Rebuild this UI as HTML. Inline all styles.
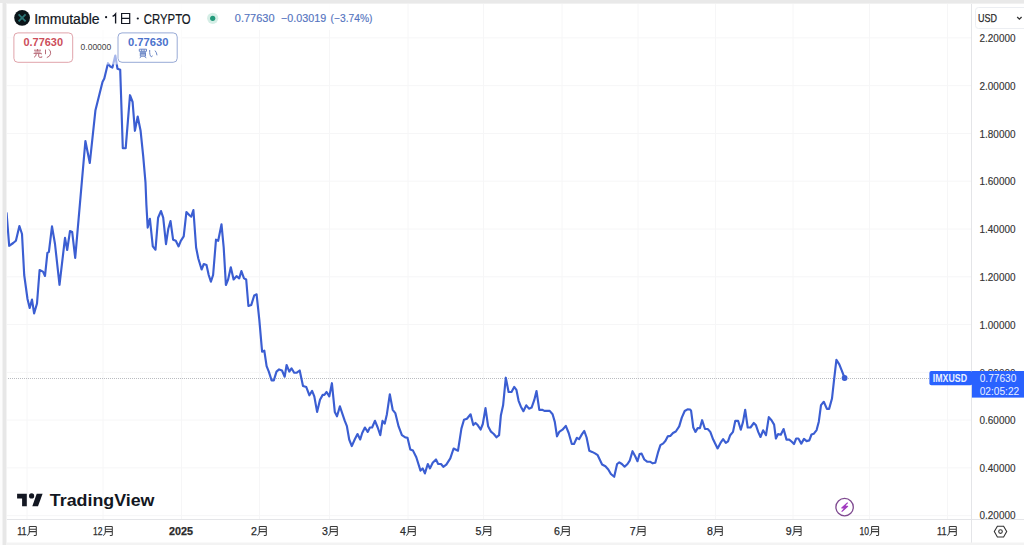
<!DOCTYPE html>
<html><head><meta charset="utf-8">
<style>
*{margin:0;padding:0;box-sizing:border-box}
html,body{width:1024px;height:545px;overflow:hidden;background:#fff;font-family:"Liberation Sans",sans-serif}
#wrap{position:absolute;left:0;top:0;width:1024px;height:545px;background:#fff}
svg{position:absolute;left:0;top:0}
</style></head><body><div id="wrap">
<svg width="1024" height="545" viewBox="0 0 1024 545" font-family="Liberation Sans, sans-serif">
  <defs>
    <g id="tsuki" fill="none" stroke="#3a3a3a" stroke-width="1.05">
      <path d="M2.3 0.5 H9.3 M2.3 0.5 V6 Q2.3 8.6 0.2 9.6 M9.3 0.5 V8.7 Q9.3 9.4 8.4 9.4 H6.8 M2.3 3.2 H9.3 M2.3 5.6 H9.3"/>
    </g>
  </defs>
  <!-- frame -->
  <rect x="0" y="0" width="1024" height="545" fill="#fff"/>
  <!-- grid -->
  <g stroke="#f6f6f7" stroke-width="1">
    <line x1="6" y1="37.9" x2="971" y2="37.9"/>
    <line x1="6" y1="85.7" x2="971" y2="85.7"/>
    <line x1="6" y1="133.5" x2="971" y2="133.5"/>
    <line x1="6" y1="181.2" x2="971" y2="181.2"/>
    <line x1="6" y1="229" x2="971" y2="229"/>
    <line x1="6" y1="276.8" x2="971" y2="276.8"/>
    <line x1="6" y1="324.6" x2="971" y2="324.6"/>
    <line x1="6" y1="372.4" x2="971" y2="372.4"/>
    <line x1="6" y1="420.1" x2="971" y2="420.1"/>
    <line x1="6" y1="467.9" x2="971" y2="467.9"/>
    <line x1="6" y1="515.7" x2="971" y2="515.7"/>
    <line x1="27" y1="3" x2="27" y2="519"/>
    <line x1="103" y1="3" x2="103" y2="519"/>
    <line x1="181.5" y1="3" x2="181.5" y2="519"/>
    <line x1="259.5" y1="3" x2="259.5" y2="519"/>
    <line x1="329.5" y1="3" x2="329.5" y2="519"/>
    <line x1="408" y1="3" x2="408" y2="519"/>
    <line x1="483.5" y1="3" x2="483.5" y2="519"/>
    <line x1="562" y1="3" x2="562" y2="519"/>
    <line x1="638" y1="3" x2="638" y2="519"/>
    <line x1="715.5" y1="3" x2="715.5" y2="519"/>
    <line x1="793" y1="3" x2="793" y2="519"/>
    <line x1="869.5" y1="3" x2="869.5" y2="519"/>
    <line x1="947.5" y1="3" x2="947.5" y2="519"/>
  </g>
  <!-- axes borders -->
  <line x1="971.5" y1="3" x2="971.5" y2="545" stroke="#e4e5e8" stroke-width="1"/>
  <line x1="6" y1="519.5" x2="1024" y2="519.5" stroke="#e4e5e8" stroke-width="1"/>
  <!-- price line dotted -->
  <line x1="6" y1="378.5" x2="929" y2="378.5" stroke="#b9bbc0" stroke-width="1" stroke-dasharray="1 1"/>
  <!-- series -->
  <path d="M6.6 213.2 L9.2 245.8 L13.2 243.0 L15.9 240.7 L19.4 226.0 L22.0 234.0 L24.2 275.0 L27.5 299.0 L29.7 308.0 L32.0 299.6 L34.1 313.4 L37.0 303.5 L39.6 270.0 L43.0 271.6 L45.0 276.0 L47.4 252.9 L48.9 251.8 L52.0 226.4 L55.0 244.0 L59.5 284.8 L65.0 237.9 L67.2 250.0 L70.0 231.0 L72.2 232.0 L75.2 258.0 L85.4 141.0 L89.8 163.0 L95.4 110.6 L102.5 82.0 L104.3 78.6 L108.0 63.2 L110.2 66.5 L112.4 67.6 L115.3 55.5 L117.5 68.7 L120.2 69.8 L122.8 148.2 L125.7 148.2 L130.0 95.2 L132.6 102.0 L134.9 130.8 L137.7 116.5 L140.6 130.8 L143.2 156.2 L145.5 182.7 L146.4 205.0 L147.7 227.6 L149.9 218.8 L152.8 246.4 L155.5 249.7 L158.1 217.7 L161.0 211.0 L163.2 217.7 L166.0 244.2 L168.3 228.7 L170.5 221.0 L173.1 239.7 L175.8 240.8 L178.6 246.4 L180.8 240.8 L183.7 236.4 L186.4 212.1 L189.7 215.5 L191.2 216.6 L193.4 210.0 L196.1 247.5 L198.3 258.5 L201.6 269.5 L203.8 264.0 L206.5 265.1 L208.7 275.0 L210.9 281.7 L213.1 275.0 L216.0 239.7 L218.2 240.8 L221.5 224.3 L223.7 247.5 L225.9 285.0 L228.1 279.5 L230.8 267.3 L233.6 279.5 L236.5 276.2 L239.2 278.4 L241.4 271.1 L244.0 278.4 L246.2 279.5 L248.4 306.0 L251.3 304.9 L254.2 295.5 L256.6 294.3 L259.3 319.7 L262.1 351.7 L264.3 350.6 L266.6 366.1 L268.8 371.6 L271.6 380.4 L273.8 380.4 L276.5 371.6 L279.1 369.4 L282.0 370.5 L284.7 376.7 L286.6 365.0 L289.3 371.6 L291.5 368.3 L294.2 372.7 L296.8 372.7 L299.7 370.5 L303.0 386.0 L306.3 387.1 L309.4 395.3 L312.1 390.9 L314.3 396.4 L317.1 411.9 L320.0 399.7 L322.7 394.9 L324.4 394.9 L326.6 392.0 L329.3 396.4 L331.9 383.2 L334.8 411.9 L337.0 416.3 L339.9 406.4 L342.5 414.1 L344.7 420.7 L346.9 426.2 L349.2 439.5 L351.8 446.1 L354.7 439.5 L357.5 434.0 L360.2 439.5 L362.2 433.0 L364.9 427.5 L367.7 431.9 L369.9 427.5 L372.1 427.5 L375.0 420.8 L377.7 427.5 L380.3 435.2 L382.5 420.8 L384.7 423.7 L386.9 414.2 L389.8 394.3 L392.7 409.8 L395.3 413.1 L398.6 426.4 L401.9 435.2 L405.3 437.4 L407.5 437.8 L410.3 449.5 L413.0 450.6 L416.3 457.3 L420.5 470.6 L422.7 468.4 L424.9 473.4 L427.8 464.0 L430.0 468.4 L432.7 462.8 L436.0 459.5 L438.2 464.0 L441.0 464.0 L443.3 466.8 L446.3 464.6 L450.3 458.4 L453.6 448.5 L458.0 450.7 L461.4 428.6 L464.0 419.8 L466.9 418.7 L470.6 414.3 L473.3 425.1 L475.5 422.9 L477.7 425.1 L480.6 429.5 L482.8 424.0 L485.5 408.1 L488.1 426.2 L491.0 431.7 L493.8 434.0 L496.5 437.3 L499.1 435.1 L500.9 415.2 L503.1 405.3 L505.8 377.7 L508.6 392.0 L511.5 392.0 L514.2 386.9 L516.4 389.8 L518.6 400.8 L520.8 406.4 L523.4 411.2 L526.3 405.3 L529.0 408.7 L531.6 407.6 L534.3 399.9 L536.5 391.0 L539.3 409.8 L542.2 409.8 L544.4 410.9 L547.1 410.9 L549.7 410.9 L552.6 414.2 L554.8 421.9 L557.0 436.3 L559.2 431.9 L562.5 429.7 L565.8 425.9 L568.7 433.0 L571.8 444.0 L574.0 444.0 L576.9 437.8 L579.1 439.2 L582.0 434.1 L584.3 431.0 L586.6 437.5 L589.3 450.8 L592.1 451.9 L595.0 453.4 L597.7 455.2 L600.3 460.7 L602.1 464.5 L605.4 466.2 L608.3 469.5 L610.9 474.0 L614.2 476.8 L617.1 464.0 L619.3 462.3 L621.9 464.0 L624.6 466.7 L627.5 464.0 L629.7 460.7 L632.5 451.2 L635.2 456.3 L637.5 461.2 L639.6 454.0 L641.6 453.6 L644.3 459.5 L647.1 461.7 L650.0 461.7 L652.7 463.3 L655.3 462.8 L658.2 451.8 L660.4 445.2 L663.3 443.4 L665.5 440.8 L667.7 436.4 L670.3 435.9 L673.0 433.0 L675.8 431.5 L679.2 426.4 L681.8 417.6 L684.7 411.0 L687.5 409.4 L690.2 409.5 L691.1 410.9 L693.3 427.5 L695.5 431.9 L697.7 428.1 L699.9 428.1 L702.1 420.2 L705.0 429.0 L707.7 429.0 L710.3 431.9 L713.2 439.6 L715.4 444.0 L717.6 448.4 L720.5 442.9 L723.1 439.2 L725.8 442.9 L728.0 441.4 L730.2 435.2 L733.0 431.9 L735.3 420.8 L738.1 420.8 L740.8 429.7 L743.0 421.9 L745.2 409.8 L747.7 427.5 L750.5 427.5 L753.8 423.0 L756.0 425.3 L758.2 431.9 L760.5 437.0 L763.1 430.3 L766.0 435.2 L768.8 417.1 L771.5 420.2 L774.1 424.6 L775.9 438.5 L778.1 434.1 L780.8 434.7 L783.6 429.0 L786.5 439.6 L789.2 439.6 L791.8 441.8 L794.0 444.0 L796.2 438.5 L798.4 438.5 L801.3 443.6 L804.0 438.9 L806.6 441.1 L809.3 440.4 L811.5 434.5 L813.7 433.8 L816.6 430.1 L818.8 421.7 L821.0 405.1 L823.8 401.8 L826.9 408.9 L829.1 408.9 L832.0 398.5 L834.2 378.6 L836.4 359.8 L839.3 364.3 L841.9 370.9 L844.6 378.0" fill="none" stroke="#3b5ed2" stroke-width="2.15" stroke-linejoin="round" stroke-linecap="round"/>
  <circle cx="844.6" cy="378" r="2.9" fill="#3b5ed2"/>

  <!-- price axis labels -->
  <g font-size="11.6" fill="#333" stroke="#333" stroke-width="0.15">
    <text x="979.5" y="42.1" textLength="36" lengthAdjust="spacingAndGlyphs">2.20000</text>
    <text x="979.5" y="89.9" textLength="36" lengthAdjust="spacingAndGlyphs">2.00000</text>
    <text x="979.5" y="137.7" textLength="36" lengthAdjust="spacingAndGlyphs">1.80000</text>
    <text x="979.5" y="185.4" textLength="36" lengthAdjust="spacingAndGlyphs">1.60000</text>
    <text x="979.5" y="233.2" textLength="36" lengthAdjust="spacingAndGlyphs">1.40000</text>
    <text x="979.5" y="281" textLength="36" lengthAdjust="spacingAndGlyphs">1.20000</text>
    <text x="979.5" y="328.8" textLength="36" lengthAdjust="spacingAndGlyphs">1.00000</text>
    <text x="979.5" y="376.6" textLength="36" lengthAdjust="spacingAndGlyphs">0.80000</text>
    <text x="979.5" y="424.3" textLength="36" lengthAdjust="spacingAndGlyphs">0.60000</text>
    <text x="979.5" y="472.1" textLength="36" lengthAdjust="spacingAndGlyphs">0.40000</text>
    <text x="979.5" y="518.9" textLength="36" lengthAdjust="spacingAndGlyphs">0.20000</text>
  </g>
  <!-- USD box -->
  <rect x="975.5" y="7.5" width="52" height="21" rx="3" fill="#fff" stroke="#eceef2"/>
  <text x="978" y="22.3" font-size="11.5" fill="#2b2b2b" stroke="#2b2b2b" stroke-width="0.25" textLength="19" lengthAdjust="spacingAndGlyphs">USD</text>
  <path d="M1017.2 17 L1019.4 19.2 L1021.6 17" fill="none" stroke="#333" stroke-width="1.3"/>

  <!-- last price labels -->
  <rect x="929.4" y="371" width="43" height="14.2" rx="2" fill="#2962ff"/>
  <text x="932.8" y="382.2" font-size="11.3" font-weight="bold" fill="#eaf0ff" textLength="34.2" lengthAdjust="spacingAndGlyphs">IMXUSD</text>
  <rect x="971.9" y="371" width="53" height="26.6" fill="#2962ff"/>
  <text x="979.7" y="382.2" font-size="11.6" fill="#eaf0ff" textLength="36.6" lengthAdjust="spacingAndGlyphs">0.77630</text>
  <text x="979.7" y="395" font-size="11.6" fill="#eaf0ff" textLength="39.5" lengthAdjust="spacingAndGlyphs">02:05:22</text>

  <!-- time axis -->
  <g font-size="10.6" fill="#2b2b2b" stroke="#2b2b2b" stroke-width="0.25">
    <text x="17.2" y="535" textLength="9.5" lengthAdjust="spacingAndGlyphs">11</text><use href="#tsuki" x="27" y="526"/>
    <text x="93" y="535" textLength="9.5" lengthAdjust="spacingAndGlyphs">12</text><use href="#tsuki" x="103" y="526"/>
    <text x="169" y="535" font-weight="bold" textLength="24" lengthAdjust="spacingAndGlyphs">2025</text>
    <text x="251" y="535">2</text><use href="#tsuki" x="257" y="526"/>
    <text x="322" y="535">3</text><use href="#tsuki" x="328" y="526"/>
    <text x="400" y="535">4</text><use href="#tsuki" x="406" y="526"/>
    <text x="475.5" y="535">5</text><use href="#tsuki" x="481.5" y="526"/>
    <text x="554" y="535">6</text><use href="#tsuki" x="560" y="526"/>
    <text x="629.8" y="535">7</text><use href="#tsuki" x="635.8" y="526"/>
    <text x="707" y="535">8</text><use href="#tsuki" x="713" y="526"/>
    <text x="785.8" y="535">9</text><use href="#tsuki" x="791.8" y="526"/>
    <text x="859.5" y="535" textLength="9.5" lengthAdjust="spacingAndGlyphs">10</text><use href="#tsuki" x="869.3" y="526"/>
    <text x="937" y="535" textLength="9.5" lengthAdjust="spacingAndGlyphs">11</text><use href="#tsuki" x="947" y="526"/>
  </g>
  <!-- settings hexagon -->
  <path d="M994.3 531.6 L997.4 526.2 L1003.6 526.2 L1006.7 531.6 L1003.6 537 L997.4 537 Z" fill="none" stroke="#333" stroke-width="1.1"/>
  <circle cx="1000.5" cy="531.6" r="1.8" fill="none" stroke="#333" stroke-width="1.1"/>

  <rect x="6" y="3" width="372" height="27" fill="#fff" fill-opacity="0.85"/>
  <!-- header -->
  <circle cx="22.1" cy="17.8" r="7.9" fill="#0b1519"/>
  <path d="M18.6 14.3 L25.6 21.3 M25.6 14.3 L18.6 21.3" stroke="#2b7676" stroke-width="1.8"/>
  <g font-size="14" fill="#131722" stroke="#131722" stroke-width="0.2">
    <text x="34.2" y="23.6" textLength="65.4" lengthAdjust="spacingAndGlyphs">Immutable</text>
        <text x="143.8" y="23.6" textLength="46.9" lengthAdjust="spacingAndGlyphs">CRYPTO</text>
  </g>
  <circle cx="106.1" cy="17.2" r="1.1" fill="#131722"/>
  <path d="M112.6 16.4 Q114.6 15.4 115.6 14 V23.6" fill="none" stroke="#131722" stroke-width="1.35"/>
  <circle cx="137.8" cy="18.5" r="1.1" fill="#131722"/>
  <path d="M121.6 13.5 H129.7 V23.5 H121.6 Z M121.6 18.3 H129.7" fill="none" stroke="#131722" stroke-width="1.2"/>
  <circle cx="212.7" cy="18.3" r="5.6" fill="#d5eee6"/>
  <circle cx="212.7" cy="18.3" r="2.6" fill="#22997a"/>
  <g font-size="11.2" fill="#5474c0" stroke="#5474c0" stroke-width="0.15">
    <text x="234.8" y="22.3" textLength="39.8" lengthAdjust="spacingAndGlyphs">0.77630</text>
    <text x="281" y="22.3" textLength="45.2" lengthAdjust="spacingAndGlyphs">−0.03019</text>
    <text x="330.5" y="22.3" textLength="42" lengthAdjust="spacingAndGlyphs">(−3.74%)</text>
  </g>

  <rect x="6" y="30" width="176" height="34.5" fill="#fff" fill-opacity="0.55"/>
  <!-- buy/sell -->
  <rect x="13.9" y="32.9" width="58.8" height="29.4" rx="4" fill="#fff" stroke="#e0a3aa" stroke-width="1"/>
  <text x="23.5" y="45.6" font-size="11" font-weight="bold" fill="#cc4d5a" textLength="39.5" lengthAdjust="spacingAndGlyphs">0.77630</text>
  <text x="80.6" y="49.7" font-size="9" fill="#444" textLength="30.7" lengthAdjust="spacingAndGlyphs">0.00000</text>
  <rect x="118" y="32.9" width="59.2" height="29.4" rx="4" fill="#fff" stroke="#98aad6" stroke-width="1"/>
  <text x="128" y="45.6" font-size="11" font-weight="bold" fill="#4b72cc" textLength="40.5" lengthAdjust="spacingAndGlyphs">0.77630</text>
  <!-- 売り -->
  <g fill="none" stroke="#b86b78" stroke-width="1">
    <path d="M37.5 49 V51.2 M34 50.2 H41 M34.5 52 H40.5 M33.6 53.4 H41.4 V54.4 M36.3 53.6 Q36.3 56.5 34 57.3 M38.7 53.6 V56.5 Q38.7 57.3 40 57.3 H41.8 V56.3"/>
    <path d="M45.5 49.6 V54.2 M48.6 49.4 Q51 50 50.6 53.8 Q50 56.6 46.8 57.6"/>
  </g>
  <!-- 買い -->
  <g fill="none" stroke="#6a86c6" stroke-width="1">
    <path d="M139.3 49.2 H146.5 V51.3 H139.3 Z M141.7 49.2 V51.3 M144.1 49.2 V51.3 M140.3 52.3 H145.5 V56.2 H140.3 Z M140.3 53.6 H145.5 M140.3 54.9 H145.5 M141.3 56.6 L139.7 57.8 M144.5 56.6 L146.3 57.8"/>
    <path d="M149.7 50 Q149.4 55.5 151.3 56.8 Q152 57 152.4 55.6 M155 50.6 Q156.8 52.5 157 55.3"/>
  </g>

  <!-- TradingView logo -->
  <g fill="#131722">
    <path d="M17.1 493.7 H26.8 V506.3 H22.1 V498.4 H17.1 Z"/>
    <circle cx="31.6" cy="495.9" r="2.6"/>
    <path d="M36.7 493.7 H42.6 L38 506.3 H32.3 Z"/>
  </g>
  <text x="49.8" y="506.2" font-size="17.4" font-weight="bold" fill="#131722" textLength="104.7" lengthAdjust="spacingAndGlyphs">TradingView</text>

  <!-- lightning -->
  <circle cx="844.6" cy="507.1" r="8.7" fill="#fff" stroke="#7f4a90" stroke-width="1.3"/>
  <path d="M847.4 503 L841.8 507.9 H845.1 L842 511.4 L847.6 506.4 H844.3 Z" fill="#a23cc0" stroke="#a23cc0" stroke-width="1.1" stroke-linejoin="round"/>

  <!-- frame bars -->
  <rect x="0" y="542.5" width="1024" height="2.5" fill="#f3f3f3"/>
  <rect x="0" y="0" width="1024" height="3" fill="#e9e9e9"/>
  <rect x="0" y="3" width="1024" height="1" fill="#f1f1f1"/>
  <rect x="0" y="3" width="2" height="542" fill="#fcfcfc"/>
  <rect x="2" y="3" width="1" height="542" fill="#f2f2f2"/>
  <rect x="3" y="3" width="3" height="542" fill="#e7e7e7"/>
  <rect x="6" y="3" width="1" height="542" fill="#f3f3f3"/>
</svg>
</div></body></html>
